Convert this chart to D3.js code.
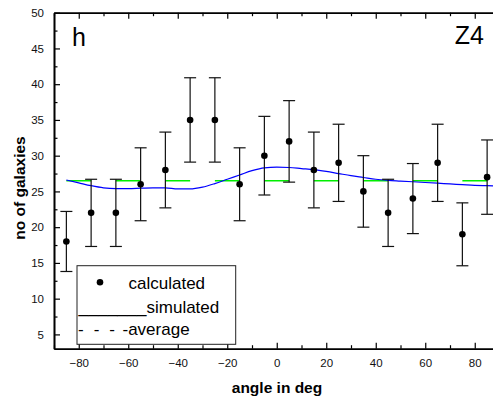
<!DOCTYPE html>
<html>
<head>
<meta charset="utf-8">
<script src="https://cdn.jsdelivr.net/npm/d3@7"></script>
<style>
  body { margin: 0; background: #fff; }
  svg { display: block; font-family: "Liberation Sans", Arial, sans-serif; }
</style>
</head>
<body>
<svg id="chart" width="493" height="400"></svg>
<script>
// measured counts per angle bin
const angles = [-85, -75, -65, -55, -45, -35, -25, -15, -5, 5, 15, 25, 35, 45, 55, 65, 75, 85];
const calculated = [18, 22, 22, 26, 28, 35, 35, 26, 30, 32, 28, 29, 25, 22, 24, 29, 19, 27];
const errors = [4.2, 4.7, 4.7, 5.1, 5.3, 5.9, 5.9, 5.1, 5.5, 5.7, 5.3, 5.4, 5.0, 4.7, 4.9, 5.4, 4.4, 5.2];

// simulated curve
const simAngles = [-85, -80, -75, -70, -65, -60, -55, -50, -45, -40, -35, -30, -25, -20, -15, -10, -5, 0,
  5, 10, 15, 20, 25, 30, 35, 40, 45, 50, 55, 60, 65, 70, 75, 80, 85, 90];
const simulated = [26.6, 26.2, 25.8, 25.5, 25.4, 25.4, 25.45, 25.5, 25.5, 25.35, 25.35, 25.6, 26.1, 26.7, 27.3, 27.9, 28.3, 28.4,
  28.35, 28.2, 28.05, 27.8, 27.5, 27.2, 26.95, 26.7, 26.55, 26.45, 26.35, 26.25, 26.15, 26.05, 25.95, 25.85, 25.8, 25.75];

const average = 26.5;
const averageRange = [-85, 85];

const xTicks = [-80, -60, -40, -20, 0, 20, 40, 60, 80];
const xMinor = [-90, -70, -50, -30, -10, 10, 30, 50, 70, 90];
const yTicks = [5, 10, 15, 20, 25, 30, 35, 40, 45, 50];
const yMinor = [7.5, 12.5, 17.5, 22.5, 27.5, 32.5, 37.5, 42.5, 47.5];

const svg = d3.select("#chart");
const plotL = 54, plotR = 499.5, plotT = 12.7, plotB = 348.7;

const x = d3.scaleLinear().domain([-90, 90]).range([plotL, plotR]);
const y = d3.scaleLinear().domain([3, 50]).range([plotB, plotT]);

// axes, ticks pointing inward
const drawAxis = (axis, transform) => {
  const g = svg.append("g").attr("transform", transform);
  g.call(axis);
  g.select(".domain").attr("stroke-width", 1.6);
  g.selectAll(".tick line").attr("stroke-width", 1.2);
  g.selectAll("text").attr("font-size", 11.5).attr("fill", "#111")
    .attr("font-family", "'Liberation Sans', Arial, sans-serif");
  return g;
};

drawAxis(d3.axisBottom(x).tickValues(xTicks).tickSizeInner(-6).tickSizeOuter(0).tickPadding(10).tickFormat(d3.format("d")),
  `translate(0,${plotB})`);
drawAxis(d3.axisBottom(x).tickValues(xMinor).tickSizeInner(-3.5).tickSizeOuter(0).tickFormat(""),
  `translate(0,${plotB})`);
drawAxis(d3.axisTop(x).tickValues(xTicks).tickSizeInner(-6).tickSizeOuter(0).tickFormat(""),
  `translate(0,${plotT})`);
drawAxis(d3.axisTop(x).tickValues(xMinor).tickSizeInner(-3.5).tickSizeOuter(0).tickFormat(""),
  `translate(0,${plotT})`);
drawAxis(d3.axisLeft(y).tickValues(yTicks).tickSizeInner(-6).tickSizeOuter(0).tickPadding(10),
  `translate(${plotL},0)`);
drawAxis(d3.axisLeft(y).tickValues(yMinor).tickSizeInner(-3.5).tickSizeOuter(0).tickFormat(""),
  `translate(${plotL},0)`);
drawAxis(d3.axisRight(y).tickValues(yTicks).tickSizeInner(-6).tickSizeOuter(0).tickFormat(""),
  `translate(${plotR},0)`);
drawAxis(d3.axisRight(y).tickValues(yMinor).tickSizeInner(-3.5).tickSizeOuter(0).tickFormat(""),
  `translate(${plotR},0)`);

// average line, dashed one bin on / one bin off
const dashLen = x(10) - x(0);
svg.append("line")
  .attr("x1", x(averageRange[0])).attr("x2", x(averageRange[1]))
  .attr("y1", y(average)).attr("y2", y(average))
  .attr("stroke", "#00ee00").attr("stroke-width", 1.5)
  .attr("stroke-dasharray", `${dashLen},${dashLen}`);

// simulated curve
const simData = simAngles.map((a, i) => [a, simulated[i]]);
svg.append("path")
  .datum(simData)
  .attr("fill", "none")
  .attr("stroke", "#0000ff")
  .attr("stroke-width", 1.2)
  .attr("d", d3.line().x(d => x(d[0])).y(d => y(d[1])).curve(d3.curveMonotoneX));

// error bars
const pts = angles.map((a, i) => ({ a, v: calculated[i], e: errors[i] }));
const bars = svg.append("g").attr("stroke", "#111").attr("stroke-width", 1.2);
pts.forEach(p => {
  const cx = x(p.a);
  bars.append("line").attr("x1", cx).attr("x2", cx).attr("y1", y(p.v - p.e)).attr("y2", y(p.v + p.e));
  bars.append("line").attr("x1", cx - 6).attr("x2", cx + 6).attr("y1", y(p.v + p.e)).attr("y2", y(p.v + p.e));
  bars.append("line").attr("x1", cx - 6).attr("x2", cx + 6).attr("y1", y(p.v - p.e)).attr("y2", y(p.v - p.e));
});

svg.append("g").selectAll("circle")
  .data(pts)
  .join("circle")
  .attr("cx", d => x(d.a))
  .attr("cy", d => y(d.v))
  .attr("r", 3.3)
  .attr("fill", "#000");

// panel labels
svg.append("text").attr("x", 72).attr("y", 46).attr("font-size", 25).text("h");
svg.append("text").attr("x", 484).attr("y", 43.5).attr("font-size", 25).attr("text-anchor", "end").text("Z4");

// axis titles
svg.append("text")
  .attr("x", 277).attr("y", 392.5)
  .attr("text-anchor", "middle").attr("font-weight", "bold").attr("font-size", 15.5)
  .text("angle in deg");
svg.append("text")
  .attr("transform", "translate(24.5,188) rotate(-90)")
  .attr("text-anchor", "middle").attr("font-weight", "bold").attr("font-size", 15.5)
  .text("no of galaxies");

// legend
const legend = svg.append("g");
legend.append("rect")
  .attr("x", 77).attr("y", 265.7).attr("width", 158.7).attr("height", 78.6)
  .attr("fill", "#fff").attr("stroke", "#222").attr("stroke-width", 1);
legend.append("circle").attr("cx", 100).attr("cy", 282.3).attr("r", 3.3).attr("fill", "#000");
legend.append("text").attr("x", 128.5).attr("y", 289).attr("font-size", 17).text("calculated");
legend.append("text").attr("x", 78.5).attr("y", 312.5).attr("font-size", 17)
  .attr("textLength", 68).attr("lengthAdjust", "spacingAndGlyphs").text("_______");
legend.append("text").attr("x", 146.5).attr("y", 312.5).attr("font-size", 17).text("simulated");
legend.append("text").attr("x", 78).attr("y", 335).attr("font-size", 17)
  .attr("textLength", 37).attr("lengthAdjust", "spacing").text("- - -");
legend.append("text").attr("x", 122.5).attr("y", 335).attr("font-size", 17).text("-average");
</script>
</body>
</html>
